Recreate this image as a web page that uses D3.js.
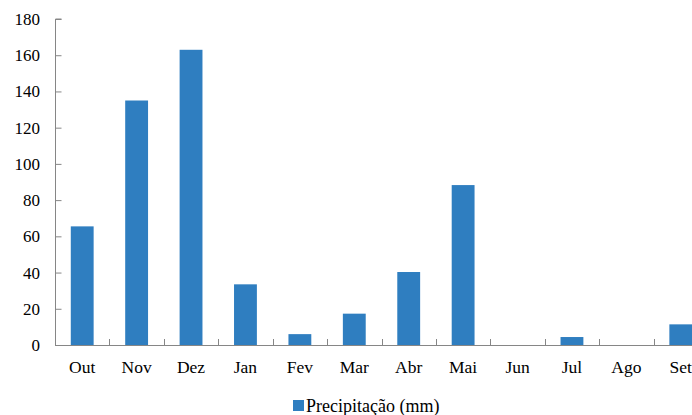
<!DOCTYPE html>
<html>
<head>
<meta charset="utf-8">
<script src="https://cdn.jsdelivr.net/npm/d3@7"></script>
<style>
  html, body { margin: 0; padding: 0; background: #fff; }
  svg { display: block; }
</style>
</head>
<body>
<svg id="chart" width="692" height="415"></svg>
<script>
// Monthly precipitation (mm), hydrological year Oct–Sep
const months = ["Out", "Nov", "Dez", "Jan", "Fev", "Mar", "Abr", "Mai", "Jun", "Jul", "Ago", "Set"];
const precipitation = [65.5, 135, 163, 33.5, 6, 17.3, 40.3, 88.3, 0, 4.4, 0, 11.4];
const yTicks = [0, 20, 40, 60, 80, 100, 120, 140, 160, 180];
const seriesName = "Precipitação (mm)";

const fontFamily = "'Liberation Serif', 'Times New Roman', 'DejaVu Serif', serif";
const svg = d3.select("#chart").attr("font-family", fontFamily);
const plotLeft = 55, plotRight = 708, plotTop = 19, plotBottom = 345;
const axisColor = "#868686";
const barColor = "#2f7ec0";

const x = d3.scaleBand().domain(months).range([plotLeft, plotRight]).paddingInner(0.58).paddingOuter(0.29);
const xTicks = d3.scaleBand().domain(months).range([plotLeft, plotRight]);
const y = d3.scaleLinear().domain([0, 180]).range([plotBottom, plotTop]);

// Bars
svg.append("g").selectAll("rect")
  .data(months.map((m, i) => ({ m, v: precipitation[i] })))
  .join("rect")
  .attr("x", d => x(d.m))
  .attr("width", x.bandwidth())
  .attr("y", d => y(d.v))
  .attr("height", d => plotBottom - y(d.v))
  .attr("fill", barColor);

// Y axis: inward ticks, labels to the left
const yAxis = svg.append("g").attr("transform", `translate(${plotLeft + 0.5},0)`)
  .call(d3.axisRight(y).tickValues(yTicks).tickSize(6).tickFormat(""));
yAxis.select(".domain").attr("stroke", axisColor).attr("d", `M6,${plotTop}H0V${plotBottom}`);
yAxis.selectAll(".tick line").attr("stroke", axisColor);

svg.append("g").selectAll("text")
  .data(yTicks)
  .join("text")
  .attr("x", 40)
  .attr("y", d => y(d) + 6)
  .attr("text-anchor", "end")
  .attr("font-family", fontFamily)
  .attr("font-size", 17)
  .attr("fill", "#000")
  .text(d => d);

// X axis: category boundaries with inward ticks
svg.append("line")
  .attr("x1", plotLeft).attr("x2", plotRight)
  .attr("y1", plotBottom + 0.5).attr("y2", plotBottom + 0.5)
  .attr("stroke", axisColor);
svg.append("g").selectAll("line")
  .data(months.slice(1))
  .join("line")
  .attr("x1", d => Math.round(xTicks(d)) + 0.5)
  .attr("x2", d => Math.round(xTicks(d)) + 0.5)
  .attr("y1", plotBottom).attr("y2", plotBottom - 6)
  .attr("stroke", axisColor);

svg.append("g").selectAll("text")
  .data(months)
  .join("text")
  .attr("x", d => xTicks(d) + xTicks.bandwidth() / 2)
  .attr("y", 373)
  .attr("text-anchor", "middle")
  .attr("font-family", fontFamily)
  .attr("font-size", 17.5)
  .attr("fill", "#000")
  .text(d => d);

// Legend
const legend = svg.append("g");
legend.append("rect")
  .attr("x", 293).attr("y", 400).attr("width", 11).attr("height", 11)
  .attr("fill", barColor);
legend.append("text")
  .attr("x", 306).attr("y", 411.5)
  .attr("font-family", fontFamily)
  .attr("font-size", 18)
  .attr("fill", "#000")
  .text(seriesName);
</script>
</body>
</html>
